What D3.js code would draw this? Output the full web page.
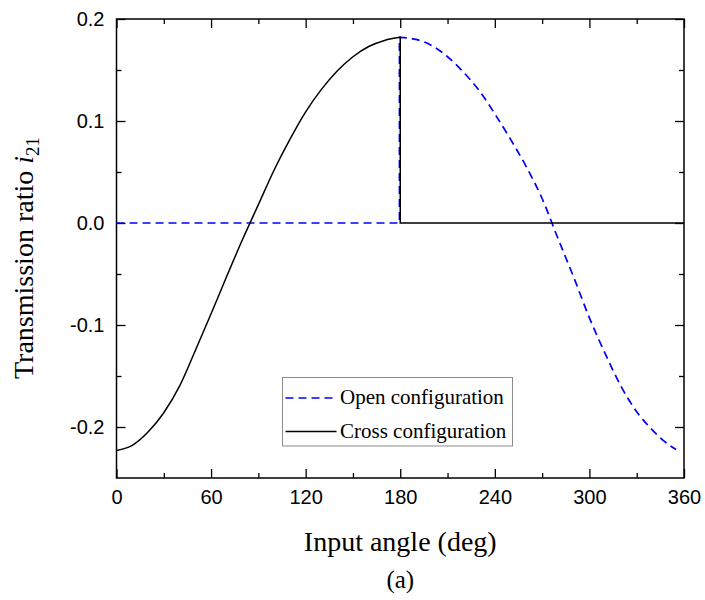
<!DOCTYPE html>
<html>
<head>
<meta charset="utf-8">
<script src="https://cdn.jsdelivr.net/npm/d3@7"></script>
<style>
  body { margin: 0; background: #fff; }
  svg { display: block; }
</style>
</head>
<body>
<div id="app"></div>
<script>
// values
const crossAngles = [0, 10, 20, 30, 40, 50, 60, 70, 80, 90, 100, 110, 120, 130, 140, 150, 160, 170, 180]
const crossValues = [-0.223, -0.218, -0.205, -0.186, -0.160, -0.125, -0.089, -0.052, -0.016, 0.018, 0.052, 0.082, 0.109, 0.131, 0.149, 0.163, 0.173, 0.179, 0.182]
const crossFlatAngles = [180, 180, 360]
const crossFlatValues = [0.182, 0, 0]

const openFlatAngles = [0, 179.5, 179.5]
const openFlatValues = [0, 0, 0.182]
const openAngles = [179.5, 190, 200, 210, 220, 230, 240, 250, 260, 270, 280, 290, 300, 310, 320, 330, 340, 350, 355]
const openValues = [0.182, 0.180, 0.174, 0.163, 0.148, 0.130, 0.107, 0.082, 0.055, 0.024, -0.015, -0.053, -0.093, -0.128, -0.160, -0.185, -0.203, -0.217, -0.222]

const xTicks = [0, 60, 120, 180, 240, 300, 360]
const xMinor = [30, 90, 150, 210, 270, 330]
const yTicks = [-0.2, -0.1, 0.0, 0.1, 0.2]
const yMinor = [-0.15, -0.05, 0.05, 0.15]
const legendLabels = ['Open configuration', 'Cross configuration']

const width = 705, height = 600
const m = {left: 116.5, right: 684, top: 19, bottom: 478}
const serif = '"Liberation Serif", "Times New Roman", serif'
const sans = '"Liberation Sans", Arial, sans-serif'

const svg = d3.select('#app').append('svg')
    .attr('width', width)
    .attr('height', height)

const x = d3.scaleLinear().domain([0, 360]).range([m.left, m.right])
const y = d3.scaleLinear().domain([-0.25, 0.2]).range([m.bottom, m.top])

const fmt = d => d3.format('.1f')(d).replace('−', '-')

function axis(gen, tr, vals, size, labels){
    const g = svg.append('g').attr('transform', tr)
        .call(gen.tickValues(vals).tickSizeInner(-size).tickSizeOuter(0).tickPadding(12)
            .tickFormat(labels ? labels : () => ''))
    g.select('.domain').remove()
    g.selectAll('.tick line').attr('stroke', '#000').attr('stroke-width', 1.3)
    g.selectAll('text').attr('font-family', sans).attr('font-size', 20).attr('fill', '#000')
    return g
}

axis(d3.axisBottom(x), `translate(0,${m.bottom})`, xTicks, 9, d => d)
axis(d3.axisBottom(x), `translate(0,${m.bottom})`, xMinor, 5, null)
axis(d3.axisTop(x), `translate(0,${m.top})`, xTicks, 9, null)
axis(d3.axisTop(x), `translate(0,${m.top})`, xMinor, 5, null)
axis(d3.axisLeft(y), `translate(${m.left},0)`, yTicks, 9, fmt)
axis(d3.axisLeft(y), `translate(${m.left},0)`, yMinor, 5, null)
axis(d3.axisRight(y), `translate(${m.right},0)`, yTicks, 9, null)
axis(d3.axisRight(y), `translate(${m.right},0)`, yMinor, 5, null)

svg.append('rect')
    .attr('x', m.left).attr('y', m.top)
    .attr('width', m.right - m.left).attr('height', m.bottom - m.top)
    .attr('fill', 'none').attr('stroke', '#000').attr('stroke-width', 1.5)

const smooth = d3.line().x(d => x(d[0])).y(d => y(d[1])).curve(d3.curveMonotoneX)
const straight = d3.line().x(d => x(d[0])).y(d => y(d[1]))

const zip = (a, b) => a.map((v, i) => [v, b[i]])

// open configuration (blue dashed)
const openPath = straight(zip(openFlatAngles, openFlatValues)) + smooth(zip(openAngles, openValues)).replace(/^M/, 'L')
svg.append('path')
    .attr('d', openPath)
    .attr('fill', 'none')
    .attr('stroke', '#0000ff')
    .attr('stroke-width', 1.7)
    .attr('stroke-dasharray', '8,5')

// cross configuration (black)
const crossPath = smooth(zip(crossAngles, crossValues)) + straight(zip(crossFlatAngles, crossFlatValues)).replace(/^M/, 'L')
svg.append('path')
    .attr('d', crossPath)
    .attr('fill', 'none')
    .attr('stroke', '#000')
    .attr('stroke-width', 1.5)

// legend
const legend = svg.append('g')
legend.append('rect')
    .attr('x', 282.5).attr('y', 377.5)
    .attr('width', 230).attr('height', 68.5)
    .attr('fill', '#fff').attr('stroke', '#8c8c8c').attr('stroke-width', 1)
const rows = [{label: legendLabels[0], color: '#0000ff', dash: '8,5', y: 398},
              {label: legendLabels[1], color: '#000', dash: null, y: 431.5}]
rows.forEach(r => {
    legend.append('line')
        .attr('x1', 285.5).attr('x2', 336.5)
        .attr('y1', r.y).attr('y2', r.y)
        .attr('stroke', r.color)
        .attr('stroke-width', r.dash ? 1.7 : 1.5)
        .attr('stroke-dasharray', r.dash)
    legend.append('text')
        .attr('x', 340).attr('y', r.y + 6)
        .attr('font-family', serif).attr('font-size', 21)
        .text(r.label)
})

// axis titles
svg.append('text')
    .attr('x', (m.left + m.right) / 2).attr('y', 551)
    .attr('text-anchor', 'middle')
    .attr('font-family', serif).attr('font-size', 28)
    .text('Input angle (deg)')

svg.append('text')
    .attr('x', (m.left + m.right) / 2).attr('y', 588)
    .attr('text-anchor', 'middle')
    .attr('font-family', serif).attr('font-size', 25)
    .text('(a)')

const yTitle = svg.append('text')
    .attr('transform', `translate(33,258) rotate(-90)`)
    .attr('text-anchor', 'middle')
    .attr('font-family', serif).attr('font-size', 28)
yTitle.append('tspan').text('Transmission ratio ')
yTitle.append('tspan').attr('font-style', 'italic').text('i')
yTitle.append('tspan').attr('font-size', 19).attr('dy', 6).text('21')
</script>
</body>
</html>
